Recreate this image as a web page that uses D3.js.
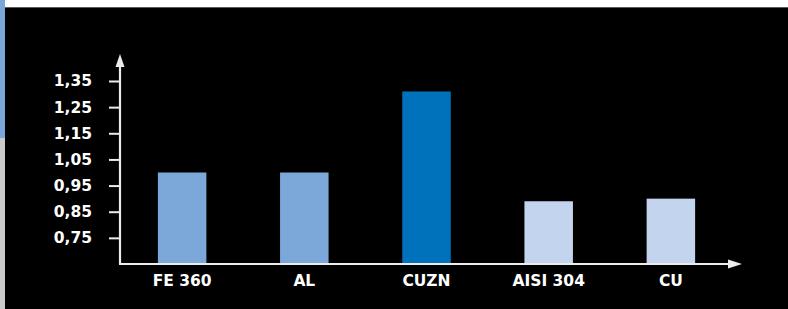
<!DOCTYPE html>
<html>
<head>
<meta charset="utf-8">
<script src="https://cdn.jsdelivr.net/npm/d3@7"></script>
<style>
  html, body { margin: 0; padding: 0; background: #000; }
  svg { display: block; }
</style>
</head>
<body>
<div id="chart"></div>
<script>
// values
const materials = ['FE 360', 'AL', 'CUZN', 'AISI 304', 'CU'];
const ratios = [1.00, 1.00, 1.31, 0.89, 0.90];
const barColors = ['#7ba7d9', '#7ba7d9', '#0072bb', '#c2d4ee', '#c2d4ee'];
const yTicks = [0.75, 0.85, 0.95, 1.05, 1.15, 1.25, 1.35];

const width = 788, height = 309;
const axisColor = '#ececec';

const svg = d3.select('#chart').append('svg')
    .attr('width', width).attr('height', height);

// page frame bits around the chart
svg.append('rect').attr('x', 0).attr('y', 0).attr('width', width).attr('height', height).attr('fill', '#000');
svg.append('rect').attr('x', 0).attr('y', 0).attr('width', width).attr('height', 7).attr('fill', '#fff');
svg.append('rect').attr('x', 0).attr('y', 7).attr('width', width).attr('height', 1).attr('fill', '#5a5a5a');
svg.append('rect').attr('x', 0).attr('y', 0).attr('width', 5).attr('height', 138).attr('fill', '#7aa7d8');
svg.append('rect').attr('x', 0).attr('y', 138).attr('width', 5).attr('height', height - 138).attr('fill', '#c9cac9');

const x = d3.scaleBand()
    .domain(materials)
    .range([120, 733])
    .paddingInner(0.603)
    .paddingOuter(0.31);

const y = d3.scaleLinear()
    .domain([0.65, 1.35])
    .range([264, 81]);

const commaFormat = d3.formatLocale({decimal: ',', thousands: '.', grouping: [3], currency: ['', '€']}).format('.2f');

// bars
svg.append('g').selectAll('rect')
  .data(materials)
  .join('rect')
    .attr('x', d => x(d))
    .attr('y', (d, i) => y(ratios[i]))
    .attr('width', x.bandwidth())
    .attr('height', (d, i) => y(0.65) - y(ratios[i]))
    .attr('fill', (d, i) => barColors[i]);

// y axis
const yAxis = svg.append('g')
    .attr('transform', 'translate(120,0)')
    .call(d3.axisLeft(y).tickValues(yTicks).tickFormat(commaFormat).tickSize(11).tickPadding(17));
yAxis.select('.domain').remove();
yAxis.selectAll('line').attr('stroke', axisColor).attr('stroke-width', 2);
yAxis.selectAll('text')
    .attr('fill', '#fff')
    .attr('font-family', 'DejaVu Sans')
    .attr('font-weight', 'bold')
    .attr('font-size', 15.5);

// x axis
const xAxis = svg.append('g')
    .attr('transform', 'translate(0,264)')
    .call(d3.axisBottom(x).tickSize(0).tickPadding(11));
xAxis.select('.domain').remove();
xAxis.selectAll('text')
    .attr('fill', '#fff')
    .attr('font-family', 'DejaVu Sans')
    .attr('font-weight', 'bold')
    .attr('font-size', 15.5);

// axis lines with arrow heads
svg.append('path')
    .attr('d', 'M120,264V66M119,264H730')
    .attr('stroke', axisColor)
    .attr('stroke-width', 2.2)
    .attr('fill', 'none');
svg.append('path')
    .attr('d', 'M120,54L124.5,67L115.5,67Z')
    .attr('fill', axisColor);
svg.append('path')
    .attr('d', 'M742,264L728,259.5L728,268.5Z')
    .attr('fill', axisColor);
</script>
</body>
</html>
